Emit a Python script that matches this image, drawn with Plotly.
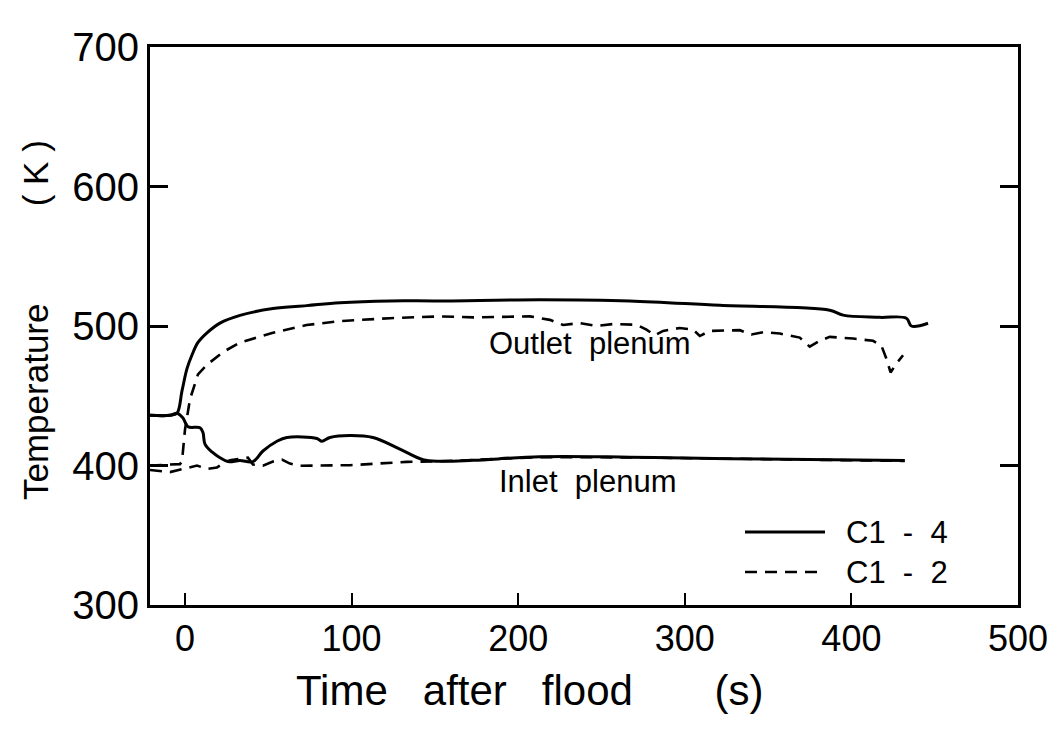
import plotly.graph_objects as go

# ---- data ----
t_c14_out = [-21, -9, -4.8, -1.8, 1.2, 4.2, 7.8, 13.2, 21, 33, 52.8, 73, 93, 123, 153, 213, 267, 321, 387, 395, 417, 433, 436, 446]
T_c14_out = [436, 436, 437.5, 453.5, 469.4, 479.2, 488.2, 495.1, 502.1, 507.6, 512.5, 514.6, 516.7, 518, 518, 518.8, 518, 514.8, 511.3, 507.8, 506.2, 505.6, 500, 502]

t_c14_in = [-21, -9, -4.8, -1.2, 1.8, 9, 10.8, 12, 16.2, 21, 25.8, 33, 40.8, 46.8, 55.2, 61.2, 79.2, 82.2, 87, 99, 112.8, 129, 142.8, 153, 173, 213, 267, 327, 432]
T_c14_in = [436, 436, 437.5, 434, 427.8, 427.1, 423.6, 415.3, 409.7, 405.6, 402.8, 403.5, 402.8, 410.4, 417.4, 420.1, 419.4, 417.4, 420.1, 421.5, 420.1, 411.8, 404.2, 403, 403.7, 406.3, 406, 404.9, 403.5]

t_c12_out = [-21, -9, -3, -1.8, 0, 3, 7.8, 13.2, 22.8, 33, 52.8, 73, 93, 123, 153, 173, 207, 219, 227, 237, 247, 257, 271, 277, 282, 287, 297, 305, 309, 315, 333, 340, 347, 357, 369, 375, 381, 387, 401, 413, 418, 421, 423.5, 427, 431]
T_c12_out = [400, 400.5, 401, 403, 425.7, 447.5, 465.3, 472.2, 481.3, 488.2, 495.1, 500.7, 503.5, 505.6, 506.9, 506.2, 506.9, 504.4, 500.7, 502.1, 500, 501.4, 500.9, 497.4, 493.3, 496.5, 498.6, 497.4, 492.8, 496.5, 497, 493.9, 495.6, 494.6, 491.7, 485.2, 489.4, 492.2, 491, 489.4, 485.9, 476.6, 466.7, 473.1, 479]

t_c12_in = [-21, -9, -1.2, 7.2, 13.2, 19.2, 22.8, 27, 33, 37.8, 40.8, 46.8, 52.8, 58.2, 63, 69, 99, 133, 153, 213, 267, 327, 432]
T_c12_in = [396.8, 395.3, 397.5, 400, 397.5, 398.6, 401.4, 403.7, 404.9, 405.6, 400.7, 399.8, 402.8, 404.2, 401.4, 399.8, 400.2, 402.6, 403, 406, 405.8, 404.7, 403.3]

x_ticks = [0, 100, 200, 300, 400, 500]
y_ticks = [300, 400, 500, 600, 700]

FONT = "Liberation Sans, Arial, sans-serif"
solid = dict(color="black", width=3)
dashed = dict(color="black", width=2.6, dash="12px,8px")

fig = go.Figure()
fig.add_trace(go.Scatter(x=t_c12_in, y=T_c12_in, mode="lines", line=dashed, name="C1 - 2", showlegend=False))
fig.add_trace(go.Scatter(x=t_c12_out, y=T_c12_out, mode="lines", line=dashed, name="C1 - 2", showlegend=False))
fig.add_trace(go.Scatter(x=t_c14_in, y=T_c14_in, mode="lines", line=solid, name="C1 - 4", showlegend=False, line_shape="spline"))
fig.add_trace(go.Scatter(x=t_c14_out, y=T_c14_out, mode="lines", line=solid, name="C1 - 4", showlegend=False, line_shape="spline"))

W, H = 1061, 733
L, R, T, B = 150, 43, 47, 128
pw, ph = W - L - R, H - T - B

def px(x):
    return (x - L) / pw

def py(y):
    return (H - B - y) / ph

NB = "\u00a0"

# legend keys
fig.add_shape(type="line", xref="paper", yref="paper", x0=px(745), x1=px(825), y0=py(532), y1=py(532), line=solid)
fig.add_shape(type="line", xref="paper", yref="paper", x0=px(745), x1=px(825), y0=py(572), y1=py(572), line=dashed)

ann = [
    dict(text="C1" + NB * 2 + "-" + NB * 2 + "4", x=px(844), y=py(532), xanchor="left", size=31),
    dict(text="C1" + NB * 2 + "-" + NB * 2 + "2", x=px(844), y=py(572), xanchor="left", size=31),
    dict(text="Outlet" + NB * 2 + "plenum", x=px(590), y=py(343), xanchor="center", size=31),
    dict(text="Inlet" + NB * 2 + "plenum", x=px(588), y=py(481), xanchor="center", size=31),
    dict(text="Time" + NB * 3 + "after" + NB * 3 + "flood" + NB * 7 + "(s)", x=px(530), y=py(690), xanchor="center", size=42),
]
for a in ann:
    fig.add_annotation(text=a["text"], x=a["x"], y=a["y"], xref="paper", yref="paper",
                       xanchor=a["xanchor"], yanchor="middle", showarrow=False,
                       font=dict(family=FONT, size=a["size"], color="black"))
fig.add_annotation(text="Temperature" + NB * 10 + "(" + NB + "K" + NB + ")", x=px(35), y=py(320),
                   xref="paper", yref="paper", textangle=-90, showarrow=False,
                   xanchor="center", yanchor="middle",
                   font=dict(family=FONT, size=35, color="black"))

fig.update_layout(
    width=W, height=H,
    margin=dict(l=L, r=R, t=T, b=B),
    paper_bgcolor="white", plot_bgcolor="white",
    showlegend=False,
    font=dict(family=FONT, color="black"),
)
fig.update_xaxes(range=[-21, 500], tickvals=x_ticks, ticktext=[str(v) for v in x_ticks],
                 ticks="inside", ticklen=12, tickwidth=2, tickcolor="black",
                 showline=True, linewidth=3, linecolor="black", mirror=True,
                 showgrid=False, zeroline=False, tickfont=dict(size=36, family=FONT))
fig.update_yaxes(range=[300, 700], tickvals=y_ticks, ticktext=[str(v) for v in y_ticks],
                 ticks="inside", ticklen=18, tickwidth=2.5, tickcolor="black",
                 showline=True, linewidth=3, linecolor="black", mirror="ticks",
                 showgrid=False, zeroline=False, tickfont=dict(size=40, family=FONT))

fig.write_html("out.html")
